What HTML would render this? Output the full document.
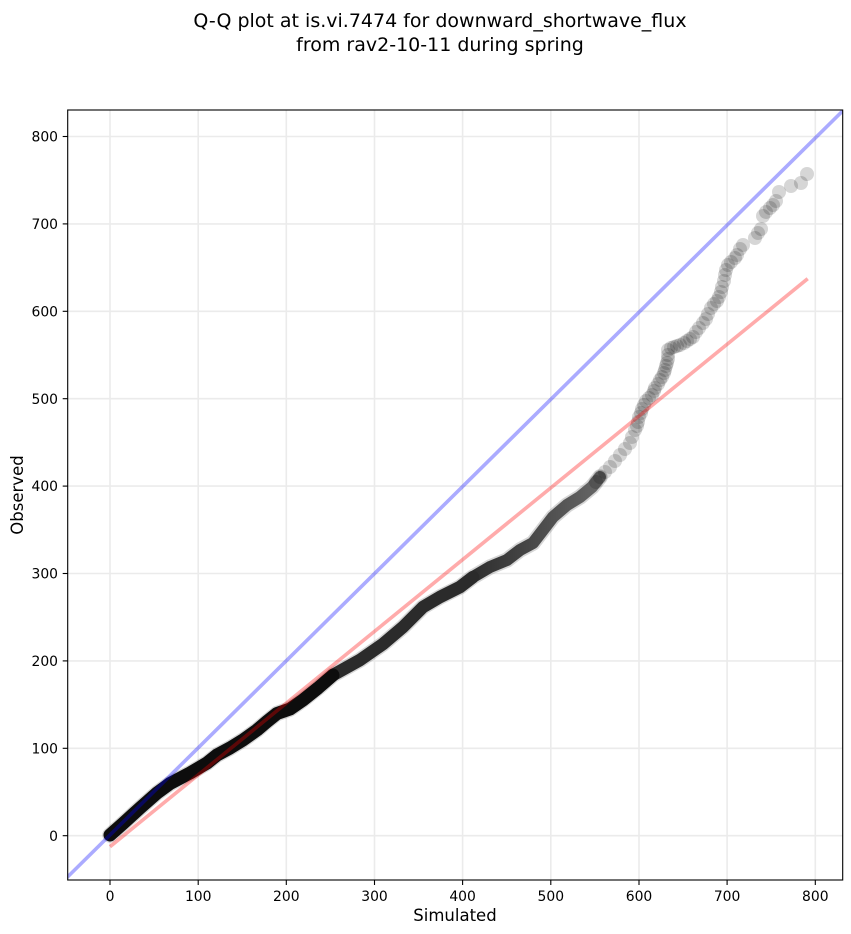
<!DOCTYPE html>
<html>
<head>
<meta charset="utf-8">
<style>
html,body{margin:0;padding:0;background:#fff;}
svg{display:block;}
text{font-family:"DejaVu Sans","Liberation Sans",sans-serif;fill:#000;}
</style>
</head>
<body>
<svg width="851" height="934" viewBox="0 0 851 934" xmlns="http://www.w3.org/2000/svg">
<rect x="0" y="0" width="851" height="934" fill="#fff"/>
<!-- title -->
<text x="440" y="27" font-size="19px" text-anchor="middle">Q-Q plot at is.vi.7474 for downward_shortwave_flux</text>
<text x="440" y="51" font-size="19px" text-anchor="middle">from rav2-10-11 during spring</text>

<defs>
<clipPath id="ax"><rect x="67.7" y="110" width="775" height="770"/></clipPath>
<linearGradient id="gC" gradientUnits="userSpaceOnUse" x1="473" y1="0" x2="600" y2="0">
<stop offset="0" stop-color="#2e2e2e"/>
<stop offset="1" stop-color="#666"/>
</linearGradient>
</defs>

<!-- grid -->
<g stroke="#ebebeb" stroke-width="1.6">
<line x1="110" y1="110" x2="110" y2="880"/>
<line x1="198.2" y1="110" x2="198.2" y2="880"/>
<line x1="286.3" y1="110" x2="286.3" y2="880"/>
<line x1="374.5" y1="110" x2="374.5" y2="880"/>
<line x1="462.6" y1="110" x2="462.6" y2="880"/>
<line x1="550.8" y1="110" x2="550.8" y2="880"/>
<line x1="639" y1="110" x2="639" y2="880"/>
<line x1="727.1" y1="110" x2="727.1" y2="880"/>
<line x1="815.3" y1="110" x2="815.3" y2="880"/>
<line x1="67.7" y1="835.7" x2="842.7" y2="835.7"/>
<line x1="67.7" y1="748.3" x2="842.7" y2="748.3"/>
<line x1="67.7" y1="660.9" x2="842.7" y2="660.9"/>
<line x1="67.7" y1="573.5" x2="842.7" y2="573.5"/>
<line x1="67.7" y1="486.1" x2="842.7" y2="486.1"/>
<line x1="67.7" y1="398.7" x2="842.7" y2="398.7"/>
<line x1="67.7" y1="311.3" x2="842.7" y2="311.3"/>
<line x1="67.7" y1="223.9" x2="842.7" y2="223.9"/>
<line x1="67.7" y1="136.5" x2="842.7" y2="136.5"/>
</g>

<g clip-path="url(#ax)">
<!-- scatter band (dense part) -->
<g fill="none" stroke-linecap="round" stroke-linejoin="round">
<polyline stroke="#000" stroke-opacity="0.16" stroke-width="15.5" points="110,835 123,823.5 140,808 157,793 170,783.5 190,773 207,763 217,755 230,748 243,740 257,730 267,721.5 277,713.5 290,709 303,700 318,688 333,675 360,660 383,644 403,627 423,607 440,597 460,587 473,577 490,567 507,560 520,550 533,543 543,530 553,517 567,505 580,497 592,487 600,477"/>
<polyline stroke="url(#gC)" stroke-width="12" points="473,577 490,567 507,560 520,550 533,543 543,530 553,517 567,505 580,497 592,487 600,477"/>
<polyline stroke="#2b2b2b" stroke-width="12.5" points="333,675 360,660 383,644 403,627 423,607 440,597 460,587 473,577"/>
<polyline stroke="#0d0d0d" stroke-width="13" points="110,835 123,823.5 140,808 157,793 170,783.5 190,773 207,763 217,755 230,748 243,740 257,730 267,721.5 277,713.5 290,709 303,700 318,688 333,675"/>
</g>
<!-- scatter circles (sparse part) -->
<g fill="#000" fill-opacity="0.16">
<circle cx="596" cy="482" r="7"/><circle cx="600" cy="477" r="7"/><circle cx="605" cy="472" r="7"/><circle cx="610" cy="467" r="7"/>
<circle cx="615" cy="461" r="7"/><circle cx="620" cy="455" r="7"/><circle cx="625" cy="449" r="7"/><circle cx="630" cy="443" r="7"/>
<circle cx="632" cy="437" r="7"/><circle cx="635" cy="430" r="7"/><circle cx="637" cy="426" r="7"/>
<circle cx="638" cy="422" r="7"/><circle cx="639" cy="417" r="7"/><circle cx="641" cy="413" r="7"/><circle cx="642" cy="409" r="7"/>
<circle cx="644" cy="405" r="7"/><circle cx="646" cy="401" r="7"/><circle cx="649" cy="398" r="7"/><circle cx="652" cy="395" r="7"/>
<circle cx="654" cy="391" r="7"/><circle cx="655" cy="388" r="7"/><circle cx="658" cy="384" r="7"/><circle cx="660" cy="380" r="7"/>
<circle cx="662" cy="377" r="7"/><circle cx="664" cy="373" r="7"/><circle cx="665" cy="370" r="7"/><circle cx="666" cy="366" r="7"/>
<circle cx="667" cy="363" r="7"/><circle cx="668" cy="359" r="7"/><circle cx="668" cy="355" r="7"/><circle cx="668" cy="350" r="7"/>
<circle cx="671" cy="348" r="7"/><circle cx="674" cy="347" r="7"/><circle cx="677" cy="346" r="7"/><circle cx="680" cy="345" r="7"/>
<circle cx="684" cy="343" r="7"/><circle cx="687" cy="341" r="7"/><circle cx="690" cy="339" r="7"/><circle cx="693" cy="337" r="7"/>
<circle cx="696" cy="332" r="7"/><circle cx="699" cy="328" r="7"/><circle cx="703" cy="323" r="7"/><circle cx="706" cy="319" r="7"/>
<circle cx="708" cy="314" r="7"/><circle cx="711" cy="308" r="7"/><circle cx="714" cy="304" r="7"/><circle cx="717" cy="301" r="7"/>
<circle cx="719" cy="297" r="7"/><circle cx="721" cy="292" r="7"/><circle cx="722" cy="287" r="7"/><circle cx="724" cy="281" r="7"/>
<circle cx="725" cy="275" r="7"/><circle cx="726" cy="270" r="7"/><circle cx="728" cy="265" r="7"/><circle cx="731" cy="262" r="7"/>
<circle cx="735" cy="258" r="7"/><circle cx="737" cy="255" r="7"/><circle cx="740" cy="249" r="7"/><circle cx="743" cy="245" r="7"/>
<circle cx="755" cy="238" r="7"/><circle cx="758" cy="233" r="7"/><circle cx="761" cy="229" r="7"/><circle cx="763" cy="216" r="7"/>
<circle cx="766" cy="212" r="7"/><circle cx="770" cy="208" r="7"/><circle cx="773" cy="205" r="7"/><circle cx="776" cy="201" r="7"/>
<circle cx="779" cy="192" r="7"/><circle cx="791" cy="186" r="7"/><circle cx="801" cy="183" r="7"/><circle cx="807" cy="174" r="7"/>
</g>
<!-- fit line -->
<line x1="110" y1="846.7" x2="807.7" y2="278.7" stroke="#ff0000" stroke-opacity="0.33" stroke-width="3.6"/>
<!-- 1:1 line -->
<line x1="60" y1="884.4" x2="850" y2="103.7" stroke="#0000ff" stroke-opacity="0.33" stroke-width="3.6"/>
</g>

<!-- axes frame -->
<rect x="67.7" y="110" width="775" height="770" fill="none" stroke="#000" stroke-width="1.1"/>

<!-- ticks -->
<g stroke="#000" stroke-width="1.1">
<line x1="110" y1="880" x2="110" y2="885"/>
<line x1="198.2" y1="880" x2="198.2" y2="885"/>
<line x1="286.3" y1="880" x2="286.3" y2="885"/>
<line x1="374.5" y1="880" x2="374.5" y2="885"/>
<line x1="462.6" y1="880" x2="462.6" y2="885"/>
<line x1="550.8" y1="880" x2="550.8" y2="885"/>
<line x1="639" y1="880" x2="639" y2="885"/>
<line x1="727.1" y1="880" x2="727.1" y2="885"/>
<line x1="815.3" y1="880" x2="815.3" y2="885"/>
<line x1="62.7" y1="835.7" x2="67.7" y2="835.7"/>
<line x1="62.7" y1="748.3" x2="67.7" y2="748.3"/>
<line x1="62.7" y1="660.9" x2="67.7" y2="660.9"/>
<line x1="62.7" y1="573.5" x2="67.7" y2="573.5"/>
<line x1="62.7" y1="486.1" x2="67.7" y2="486.1"/>
<line x1="62.7" y1="398.7" x2="67.7" y2="398.7"/>
<line x1="62.7" y1="311.3" x2="67.7" y2="311.3"/>
<line x1="62.7" y1="223.9" x2="67.7" y2="223.9"/>
<line x1="62.7" y1="136.5" x2="67.7" y2="136.5"/>
</g>

<!-- tick labels -->
<g font-size="13.9px" text-anchor="middle">
<text x="110" y="901">0</text>
<text x="198.2" y="901">100</text>
<text x="286.3" y="901">200</text>
<text x="374.5" y="901">300</text>
<text x="462.6" y="901">400</text>
<text x="550.8" y="901">500</text>
<text x="639" y="901">600</text>
<text x="727.1" y="901">700</text>
<text x="815.3" y="901">800</text>
</g>
<g font-size="13.9px" text-anchor="end">
<text x="58" y="840.8">0</text>
<text x="58" y="753.4">100</text>
<text x="58" y="666">200</text>
<text x="58" y="578.6">300</text>
<text x="58" y="491.2">400</text>
<text x="58" y="403.8">500</text>
<text x="58" y="316.4">600</text>
<text x="58" y="229">700</text>
<text x="58" y="141.6">800</text>
</g>

<!-- axis labels -->
<text x="455" y="921" font-size="16.5px" text-anchor="middle">Simulated</text>
<text x="0" y="0" font-size="16.5px" text-anchor="middle" transform="translate(23,495) rotate(-90)">Observed</text>
</svg>
</body>
</html>
